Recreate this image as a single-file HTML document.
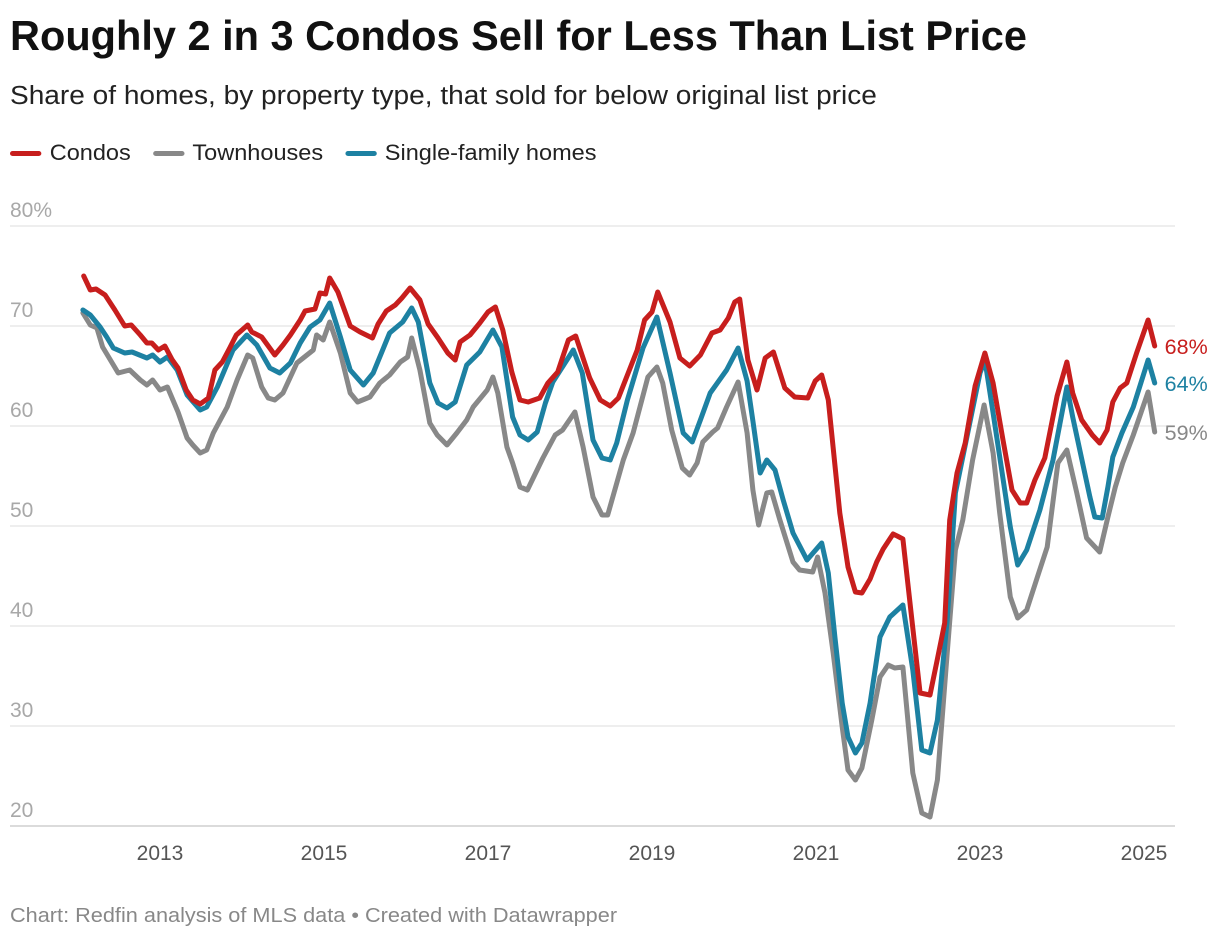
<!DOCTYPE html>
<html><head><meta charset="utf-8">
<style>
body{margin:0;background:#fff;font-family:"Liberation Sans",sans-serif;}
#wrap{position:relative;width:1220px;height:942px;overflow:hidden;}
h1{position:absolute;left:10px;top:12px;margin:0;font-size:41.5px;font-weight:bold;color:#111;white-space:nowrap;}
.sub{position:absolute;left:10px;top:82px;font-size:25.5px;color:#222;white-space:nowrap;transform-origin:0 0;transform:scaleX(1.1);}
.legend{position:absolute;left:10px;top:140px;font-size:22.5px;color:#222;display:flex;gap:21px;white-space:nowrap;transform-origin:0 0;transform:scaleX(1.045);}
.legend span{display:flex;align-items:center;}
.legend i{display:inline-block;width:30px;height:5px;border-radius:3px;margin-right:8px;}
.foot{position:absolute;left:10px;top:905px;font-size:20px;color:#888;white-space:nowrap;transform-origin:0 0;transform:scaleX(1.085);}
svg{position:absolute;left:0;top:0;}
</style></head><body>
<div id="wrap">
<h1>Roughly 2 in 3 Condos Sell for Less Than List Price</h1>
<div class="sub">Share of homes, by property type, that sold for below original list price</div>
<div class="legend">
<span><i style="background:#c71e1d"></i>Condos</span>
<span><i style="background:#888"></i>Townhouses</span>
<span><i style="background:#1d81a2"></i>Single-family homes</span>
</div>
<svg id="plot" width="1220" height="942"></svg>
<div class="foot">Chart: Redfin analysis of MLS data • Created with Datawrapper</div>
</div>
<script>
const yTicks=[20,30,40,50,60,70,80];
const xTicks=[2013,2015,2017,2019,2021,2023,2025];
const condoDates=[2012.07,2012.15,2012.22,2012.33,2012.45,2012.57,2012.65,2012.76,2012.84,2012.90,2012.98,2013.06,2013.15,2013.22,2013.32,2013.40,2013.49,2013.59,2013.67,2013.76,2013.85,2013.93,2014.07,2014.12,2014.24,2014.40,2014.50,2014.59,2014.71,2014.77,2014.89,2014.95,2015.02,2015.07,2015.17,2015.32,2015.44,2015.59,2015.66,2015.76,2015.87,2015.95,2016.05,2016.17,2016.27,2016.39,2016.51,2016.60,2016.66,2016.78,2016.90,2017.00,2017.09,2017.18,2017.29,2017.39,2017.49,2017.63,2017.73,2017.85,2017.98,2018.07,2018.24,2018.37,2018.49,2018.59,2018.71,2018.82,2018.91,2019.00,2019.07,2019.22,2019.34,2019.46,2019.59,2019.73,2019.83,2019.93,2020.01,2020.07,2020.17,2020.28,2020.38,2020.48,2020.62,2020.74,2020.90,2020.99,2021.07,2021.15,2021.29,2021.39,2021.48,2021.56,2021.66,2021.74,2021.82,2021.94,2021.99,2022.06,2022.17,2022.27,2022.39,2022.48,2022.57,2022.63,2022.72,2022.82,2022.94,2023.06,2023.16,2023.28,2023.39,2023.49,2023.57,2023.67,2023.79,2023.94,2024.06,2024.13,2024.24,2024.37,2024.46,2024.55,2024.62,2024.71,2024.79,2024.91,2025.05,2025.13];
const condoValues=[75.0,73.6,73.7,73.1,71.6,70.0,70.1,69.1,68.3,68.3,67.6,68.0,66.6,65.8,63.6,62.6,62.2,62.8,65.6,66.4,67.8,69.1,70.1,69.4,68.9,67.1,68.1,69.1,70.6,71.5,71.7,73.3,73.2,74.8,73.4,70.0,69.4,68.8,70.2,71.5,72.1,72.8,73.8,72.6,70.2,68.8,67.3,66.6,68.4,69.1,70.3,71.4,71.9,69.6,65.4,62.6,62.4,62.8,64.3,65.4,68.6,69.0,64.8,62.6,62.0,62.8,65.3,67.6,70.6,71.4,73.4,70.4,66.8,66.0,67.1,69.3,69.6,70.8,72.4,72.7,66.6,63.6,66.8,67.4,63.8,62.9,62.8,64.5,65.1,62.6,51.3,45.9,43.4,43.3,44.7,46.4,47.7,49.2,49.0,48.7,40.6,33.3,33.1,36.7,40.3,50.6,55.3,58.3,64.0,67.3,64.3,58.6,53.6,52.3,52.3,54.6,56.8,63.0,66.4,63.3,60.6,59.1,58.3,59.6,62.4,63.8,64.3,67.3,70.6,68.0];
const sfhDates=[2012.06,2012.15,2012.27,2012.35,2012.43,2012.57,2012.66,2012.84,2012.91,2013.00,2013.09,2013.21,2013.33,2013.49,2013.57,2013.70,2013.89,2014.06,2014.18,2014.34,2014.46,2014.59,2014.71,2014.83,2014.95,2015.07,2015.20,2015.32,2015.48,2015.60,2015.80,2015.96,2016.07,2016.15,2016.29,2016.39,2016.50,2016.60,2016.74,2016.90,2017.06,2017.17,2017.30,2017.39,2017.49,2017.60,2017.70,2017.79,2018.04,2018.15,2018.28,2018.39,2018.49,2018.57,2018.70,2018.89,2019.06,2019.22,2019.38,2019.49,2019.59,2019.71,2019.91,2020.05,2020.16,2020.23,2020.32,2020.40,2020.50,2020.60,2020.72,2020.89,2021.07,2021.15,2021.23,2021.32,2021.39,2021.48,2021.56,2021.66,2021.78,2021.90,2022.06,2022.18,2022.29,2022.39,2022.48,2022.60,2022.70,2022.84,2023.00,2023.06,2023.16,2023.37,2023.46,2023.57,2023.73,2023.89,2024.06,2024.13,2024.34,2024.40,2024.49,2024.56,2024.62,2024.73,2024.87,2025.05,2025.13];
const sfhValues=[71.6,71.1,69.9,68.9,67.8,67.3,67.4,66.8,67.1,66.4,66.9,65.6,63.1,61.6,61.9,63.9,67.6,69.1,68.1,65.8,65.3,66.3,68.3,69.9,70.6,72.3,68.9,65.6,64.1,65.3,69.3,70.4,71.8,70.4,64.3,62.3,61.8,62.4,66.1,67.4,69.6,67.9,60.9,59.1,58.6,59.4,62.3,64.4,67.6,65.3,58.6,56.8,56.6,58.3,62.6,67.8,70.9,65.3,59.3,58.4,60.6,63.3,65.6,67.8,64.5,60.5,55.3,56.6,55.6,52.6,49.3,46.6,48.3,45.3,38.9,32.3,28.9,27.3,28.3,32.3,38.9,40.9,42.1,35.6,27.6,27.3,30.6,40.6,53.3,58.9,65.3,66.6,61.3,49.9,46.1,47.6,51.6,56.6,63.9,60.9,52.9,50.9,50.8,53.9,56.9,59.3,61.9,66.6,64.3];
const townDates=[2012.06,2012.15,2012.23,2012.30,2012.49,2012.63,2012.76,2012.84,2012.91,2013.00,2013.09,2013.22,2013.33,2013.40,2013.49,2013.57,2013.65,2013.82,2013.94,2014.07,2014.13,2014.24,2014.32,2014.40,2014.50,2014.67,2014.87,2014.91,2014.99,2015.07,2015.20,2015.32,2015.41,2015.56,2015.68,2015.80,2015.93,2016.02,2016.07,2016.17,2016.29,2016.38,2016.50,2016.62,2016.74,2016.82,2016.99,2017.06,2017.12,2017.23,2017.30,2017.39,2017.48,2017.67,2017.82,2017.91,2018.06,2018.16,2018.28,2018.39,2018.46,2018.65,2018.77,2018.95,2019.06,2019.13,2019.24,2019.37,2019.46,2019.55,2019.62,2019.74,2019.80,2019.91,2020.05,2020.16,2020.23,2020.30,2020.40,2020.46,2020.56,2020.72,2020.80,2020.96,2021.02,2021.11,2021.21,2021.32,2021.39,2021.48,2021.56,2021.68,2021.78,2021.88,2021.96,2022.06,2022.18,2022.29,2022.39,2022.48,2022.60,2022.70,2022.79,2022.91,2023.05,2023.16,2023.24,2023.37,2023.46,2023.57,2023.70,2023.82,2023.95,2024.06,2024.18,2024.30,2024.46,2024.56,2024.65,2024.74,2024.87,2025.05,2025.13];
const townValues=[71.3,70.1,69.8,67.9,65.3,65.6,64.6,64.1,64.6,63.6,63.9,61.4,58.8,58.1,57.3,57.6,59.3,61.9,64.6,67.1,66.8,63.9,62.8,62.6,63.3,66.3,67.6,69.1,68.6,70.4,67.3,63.3,62.4,62.9,64.3,65.1,66.4,66.9,68.8,65.6,60.3,59.1,58.1,59.3,60.6,61.9,63.6,64.9,63.3,57.9,56.3,53.9,53.6,56.8,59.1,59.6,61.4,57.9,52.9,51.1,51.1,56.6,59.3,64.9,65.9,64.3,59.6,55.8,55.1,56.3,58.4,59.4,59.8,61.9,64.4,59.3,53.6,50.1,53.3,53.4,50.6,46.4,45.6,45.4,46.9,43.3,37.3,29.9,25.6,24.6,25.8,30.6,34.9,36.1,35.8,35.9,25.3,21.3,20.9,24.6,37.3,47.6,50.6,56.6,62.1,57.3,51.3,42.9,40.8,41.6,44.9,47.9,56.3,57.6,53.3,48.8,47.4,50.9,53.9,56.3,59.1,63.4,59.4];
const endLabels=["68%","64%","59%"];

const NS="http://www.w3.org/2000/svg";
const svg=document.getElementById('plot');
const X=t=>160+(t-2013)*82;
const Y=v=>826-(v-20)*10;
function mk(tag,attrs){const e=document.createElementNS(NS,tag);for(const k in attrs)e.setAttribute(k,attrs[k]);svg.appendChild(e);return e;}
yTicks.forEach((v,i)=>{
  const g=mk('line',{x1:10,x2:1175,y1:Y(v),y2:Y(v),stroke:v===20?'#cfcfcf':'#e3e3e3','stroke-width':v===20?1.5:1.2});
  
  
  const t=mk('text',{x:10,y:Y(v)-9,fill:'#a8a8a8','font-size':21,'font-family':'Liberation Sans, sans-serif'});
  t.textContent=v===80?'80%':String(v);
  
  
});
xTicks.forEach(yr=>{
  const t=mk('text',{x:X(yr),y:860,fill:'#555','font-size':21,'text-anchor':'middle','font-family':'Liberation Sans, sans-serif'});
  t.textContent=String(yr);
  
  
});
function line(dates,vals,color,name){
  const d=dates.map((t,i)=>(i?'L':'M')+X(t).toFixed(1)+','+Y(vals[i]).toFixed(1)).join('');
  const p=mk('path',{d:d,fill:'none',stroke:color,'stroke-width':5,'stroke-linejoin':'round','stroke-linecap':'round'});
  
  
}
line(townDates,townValues,'#888888','townhouses-line');
line(sfhDates,sfhValues,'#1d81a2','single-family-line');
line(condoDates,condoValues,'#c71e1d','condos-line');
const ends=[[condoDates,condoValues,'#c71e1d'],[sfhDates,sfhValues,'#1d81a2'],[townDates,townValues,'#888']];
ends.forEach((s,i)=>{
  const n=s[0].length-1;
  const t=mk('text',{x:X(s[0][n])+10,y:Y(s[1][n])+8,fill:s[2],'font-size':21.5,'font-family':'Liberation Sans, sans-serif'});
  t.textContent=endLabels[i];
  
  
});
</script>
</body></html>
